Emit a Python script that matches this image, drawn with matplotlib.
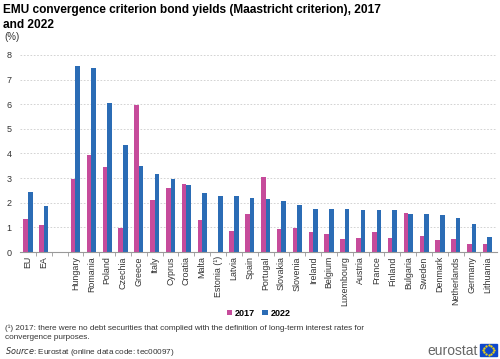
import numpy as np
import matplotlib.pyplot as plt
from matplotlib.patches import Rectangle

plt.rcParams['font.family'] = ['Liberation Sans', 'DejaVu Sans']

countries = ['EU', 'EA', '', 'Hungary', 'Romania', 'Poland', 'Czechia', 'Greece', 'Italy',
             'Cyprus', 'Croatia', 'Malta', 'Estonia (¹)', 'Latvia', 'Spain', 'Portugal',
             'Slovakia', 'Slovenia', 'Ireland', 'Belgium', 'Luxembourg', 'Austria', 'France',
             'Finland', 'Bulgaria', 'Sweden', 'Denmark', 'Netherlands', 'Germany', 'Lithuania']
y2017 = [1.33, 1.08, np.nan, 2.96, 3.95, 3.44, 0.99, 5.98, 2.11, 2.61, 2.77, 1.29, np.nan,
         0.84, 1.56, 3.05, 0.93, 0.97, 0.81, 0.73, 0.53, 0.58, 0.81, 0.57, 1.60, 0.66,
         0.49, 0.52, 0.32, 0.31]
y2022 = [2.45, 1.87, np.nan, 7.55, 7.47, 6.04, 4.33, 3.49, 3.15, 2.96, 2.70, 2.41, 2.28,
         2.27, 2.19, 2.16, 2.08, 1.91, 1.76, 1.73, 1.73, 1.72, 1.69, 1.69, 1.53, 1.53,
         1.49, 1.39, 1.15, 0.62]

c2017 = '#C64B9B'
c2022 = '#2B6CB5'

fig = plt.figure(figsize=(5, 3.59), dpi=100)
ax = fig.add_axes([0.04, 0.298, 0.954, 0.549])

x = np.arange(len(countries))
w = 0.29
ax.bar(x - w / 2, y2017, w, color=c2017, label='2017')
ax.bar(x + w / 2, y2022, w, color=c2022, label='2022')

ax.set_xlim(-0.5, len(countries) - 0.4)
ax.set_ylim(0, 8)
ax.set_yticks(range(0, 9))
ax.yaxis.grid(True, color='#cccccc', linestyle=(0, (2, 2)), linewidth=0.6)
ax.set_axisbelow(True)
for s in ['top', 'right', 'left']:
    ax.spines[s].set_visible(False)
ax.spines['bottom'].set_color('#999999')
ax.spines['bottom'].set_linewidth(0.8)
ax.tick_params(axis='y', length=0, labelsize=6.5, colors='#333333', pad=6)
ax.set_xticks(x)
ax.set_xticklabels(countries, rotation=90, fontsize=6.4, color='#333333')
ax.set_xticks(x[:-1] + 0.5, minor=True)
ax.tick_params(axis='x', which='major', length=0, pad=3)
ax.tick_params(axis='x', which='minor', length=3, color='#999999')

fig.text(0.006, 0.99, 'EMU convergence criterion bond yields (Maastricht criterion), 2017\nand 2022',
         fontsize=8.6, fontweight='bold', va='top', ha='left', linespacing=1.35)
fig.text(0.008, 0.912, '(%)', fontsize=7, va='top', ha='left', color='#333333')

ax.legend(loc='center', bbox_to_anchor=(0.5, -0.31), ncol=2, frameon=False,
          handlelength=0.6, handleheight=0.6, handletextpad=0.3,
          columnspacing=0.8, prop={'weight': 'bold', 'size': 6.5})

fig.text(0.01, 0.095, '(¹) 2017: there were no debt securities that complied with the definition of long-term interest rates for\nconvergence purposes.',
         fontsize=5.9, va='top', ha='left', color='#333333', linespacing=1.3)
fig.text(0.01, 0.021, r'$\it{Source}$: Eurostat (online data code: tec00097)', fontsize=5.9,
         va='center', ha='left', color='#333333')

fig.text(0.955, 0.022, 'eurostat', fontsize=10, color='#666666', ha='right', va='center')
fx, fy, fw, fh = 0.96, 0.008, 0.034, 0.034
fig.patches.append(Rectangle((fx, fy), fw, fh, transform=fig.transFigure, color='#0E47CB'))
ang = np.linspace(0, 2 * np.pi, 12, endpoint=False)
fig.add_artist(plt.Line2D(fx + fw / 2 + 0.0105 * np.cos(ang), fy + fh / 2 + 0.0135 * np.sin(ang),
                          transform=fig.transFigure, linestyle='', marker='.', markersize=1.2,
                          color='#FFDD00'))

fig.savefig('out.png', dpi=100)
